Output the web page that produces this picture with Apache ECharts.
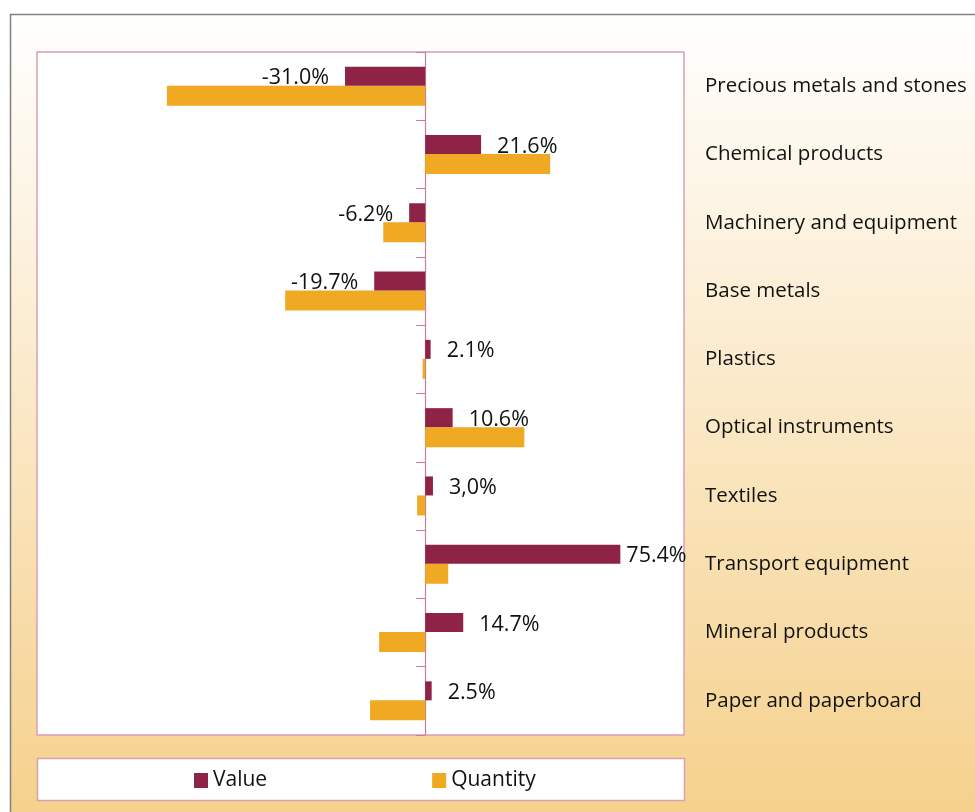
<!DOCTYPE html>
<html>
<head>
<meta charset="utf-8">
<script src="https://cdn.jsdelivr.net/npm/echarts@6/dist/echarts.min.js"></script>
<style>
html,body{margin:0;padding:0;background:#fff;}
#c{width:975px;height:812px;}
</style>
</head>
<body>
<div id="c"></div>
<script>
const categories = ["Precious metals and stones","Chemical products","Machinery and equipment","Base metals","Plastics","Optical instruments","Textiles","Transport equipment","Mineral products","Paper and paperboard"];
const valueData = [-31.0, 21.6, -6.2, -19.7, 2.1, 10.6, 3.0, 75.4, 14.7, 2.5];
const quantityData = [-99.8, 48.3, -16.2, -54.1, -1.0, 38.3, -3.1, 8.9, -17.8, -21.3];
const valueLabels = ["-31.0%","21.6%","-6.2%","-19.7%","2.1%","10.6%","3,0%","75.4%","14.7%","2.5%"];
const seriesNames = ["Value","Quantity"];

const FONT = "'Open Sans', 'Noto Sans', sans-serif";
const chart = echarts.init(document.getElementById('c'), null, {renderer:'canvas'});

const valueSeriesData = valueData.map((v, i) => ({
  value: v,
  label: {
    show: true,
    position: v < 0 ? 'left' : 'right',
    distance: v > 50 ? 6 : 16,
    offset: [0, 2],
    formatter: valueLabels[i]
  }
}));

chart.setOption({
  animation: false,
  backgroundColor: '#ffffff',
  graphic: [
    {
      type: 'rect', z: -10, silent: true,
      shape: {x: 10.5, y: 14.5, width: 975, height: 812},
      style: {
        fill: new echarts.graphic.LinearGradient(0, 0, 0, 1, [
          {offset: 0, color: '#ffffff'},
          {offset: 1, color: '#f5d08a'}
        ]),
        stroke: '#808080', lineWidth: 1.5
      }
    },
    {
      type: 'rect', z: -5, silent: true,
      shape: {x: 37.5, y: 758.5, width: 647, height: 42},
      style: {fill: '#ffffff', stroke: '#d9a0b4', lineWidth: 1.5}
    }
  ],
  grid: {
    left: 37, right: 291, top: 52, bottom: 77,
    show: true, backgroundColor: '#ffffff', borderColor: '#d9a0b4', borderWidth: 1.5,
    containLabel: false
  },
  legend: {
    data: seriesNames,
    left: 189, top: 765,
    itemWidth: 14, itemHeight: 15, itemGap: 165,
    icon: 'rect',
    textStyle: {fontFamily: FONT, fontSize: 21, color: '#111'}
  },
  xAxis: {
    type: 'value', min: -150, max: 100,
    axisLabel: {show: false}, axisTick: {show: false},
    axisLine: {show: false}, splitLine: {show: false}
  },
  yAxis: [
    {
      type: 'category', data: categories, inverse: true,
      axisLine: {show: true, onZero: true, lineStyle: {color: '#c97c9c', width: 1.2}},
      axisTick: {show: true, length: 9, lineStyle: {color: '#c97c9c'}},
      axisLabel: {show: false}
    },
    {
      type: 'category', data: categories, inverse: true, position: 'right',
      axisLine: {show: false}, axisTick: {show: false},
      axisLabel: {show: true, margin: 21, align: 'left', padding: [3, 0, 0, 0], fontFamily: FONT, fontSize: 20.5, color: '#111'}
    }
  ],
  series: [
    {
      name: seriesNames[0], type: 'bar', data: valueSeriesData,
      itemStyle: {color: '#8e2346'},
      barWidth: 19, barGap: '0%',
      label: {fontFamily: FONT, fontSize: 21.5, color: '#111'},
      z: 3
    },
    {
      name: seriesNames[1], type: 'bar', data: quantityData,
      itemStyle: {color: '#efa923'},
      barWidth: 20, barGap: '0%',
      z: 2
    }
  ]
});
</script>
</body>
</html>
